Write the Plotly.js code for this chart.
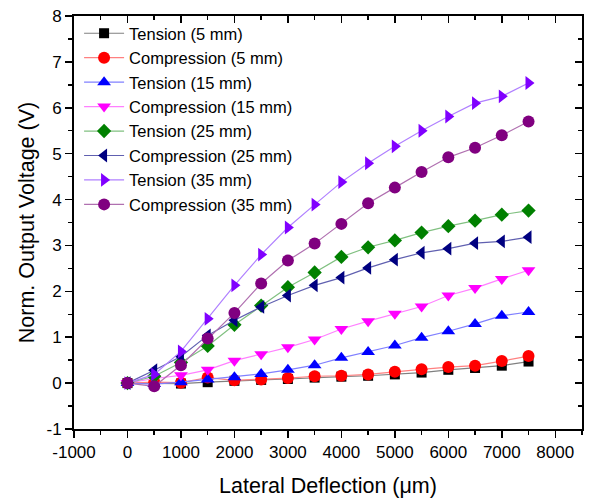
<!DOCTYPE html>
<html><head><meta charset="utf-8">
<script src="https://cdn.plot.ly/plotly-3.0.1.min.js"></script>
<style>html,body{margin:0;padding:0;background:#fff}</style>
</head><body>
<div id="chart" style="width:589px;height:501px"></div>
<script>
const deflection = [0,500,1000,1500,2000,2500,3000,3500,4000,4500,5000,5500,6000,6500,7000,7500];
const tension5 = [0,0.00,-0.01,0.02,0.05,0.07,0.09,0.12,0.14,0.16,0.19,0.23,0.29,0.33,0.38,0.47];
const compression5 = [0,0.02,0.01,0.12,0.06,0.08,0.11,0.15,0.16,0.19,0.25,0.30,0.35,0.38,0.48,0.59];
const tension15 = [0,-0.02,0.02,0.08,0.13,0.20,0.29,0.39,0.55,0.68,0.82,0.99,1.13,1.29,1.47,1.55];
const compression15 = [0,0.10,0.17,0.29,0.49,0.63,0.78,0.95,1.18,1.35,1.51,1.67,1.91,2.07,2.27,2.46];
const tension25 = [0,0.15,0.45,0.81,1.27,1.69,2.09,2.41,2.75,2.96,3.11,3.28,3.42,3.54,3.67,3.76];
const compression25 = [0,0.28,0.58,1.04,1.37,1.66,1.91,2.13,2.30,2.51,2.69,2.84,2.93,3.05,3.09,3.18];
const tension35 = [0,0.19,0.69,1.40,2.13,2.80,3.39,3.89,4.38,4.79,5.16,5.50,5.81,6.10,6.25,6.54];
const compression35 = [0,-0.07,0.39,0.97,1.53,2.17,2.67,3.04,3.47,3.92,4.26,4.60,4.92,5.13,5.40,5.70];

const seriesNames = ['Tension (5 mm)','Compression (5 mm)','Tension (15 mm)','Compression (15 mm)','Tension (25 mm)','Compression (25 mm)','Tension (35 mm)','Compression (35 mm)'];
const seriesValues = [tension5,compression5,tension15,compression15,tension25,compression25,tension35,compression35];
const markerColors = ['#000000','#ff0000','#0000ff','#ff00ff','#008000','#000080','#8000ff','#800080'];
const lineColors = ['#808080','#ff8080','#8080ff','#ff80ff','#80c080','#6060b0','#b080ff','#b070b0'];
const symbols = ['square','circle','triangle-up','triangle-down','diamond','triangle-left','triangle-right','circle'];
const sizes = [10,12,12,12,11,12,12,12];

const xTickVals = [-1000,0,1000,2000,3000,4000,5000,6000,7000,8000];
const xTickText = ['-1000','0','1000','2000','3000','4000','5000','6000','7000','8000'];
const yTickVals = [-1,0,1,2,3,4,5,6,7,8];
const yTickText = ['-1','0','1','2','3','4','5','6','7','8'];

const traces = seriesNames.map((n,i)=>({
  x: deflection, y: seriesValues[i], name: n, type:'scatter', mode:'lines+markers',
  line:{color:lineColors[i], width:1.2},
  marker:{color:markerColors[i], symbol:symbols[i], size:sizes[i], line:{width:0}}
}));
traces.push({x:[], y:[], xaxis:'x2', yaxis:'y2', showlegend:false, hoverinfo:'skip', type:'scatter', mode:'markers'});

const font = {family:'Liberation Sans, Arial, sans-serif', color:'#000'};
const layout = {
  width:589, height:501,
  margin:{l:74, r:7, t:16, b:72},
  paper_bgcolor:'#fff', plot_bgcolor:'#fff',
  font: Object.assign({size:17}, font),
  showlegend:true,
  legend:{x:0.01, y:1.0, xanchor:'left', yanchor:'top', bgcolor:'rgba(0,0,0,0)',
    font:Object.assign({size:16.5}, font), tracegroupgap:0, itemwidth:40},
  xaxis:{range:[-1000,8500], tickmode:'array', tickvals:xTickVals, ticktext:xTickText, showgrid:false, zeroline:false,
    showline:true, linecolor:'#000', linewidth:2, ticks:'outside', ticklen:7, tickwidth:1.5, tickcolor:'#000',
    minor:{dtick:500, tick0:0, ticks:'outside', ticklen:4, tickwidth:1.5, tickcolor:'#000', showgrid:false},
    tickfont:Object.assign({size:17}, font),
    title:{text:'Lateral Deflection (\u03bcm)', font:Object.assign({size:21.5}, font), standoff:17}},
  yaxis:{range:[-1,8], tickmode:'array', tickvals:yTickVals, ticktext:yTickText, showgrid:false, zeroline:false,
    showline:true, linecolor:'#000', linewidth:2, ticks:'outside', ticklen:7, tickwidth:1.5, tickcolor:'#000',
    minor:{dtick:0.5, tick0:0, ticks:'outside', ticklen:4, tickwidth:1.5, tickcolor:'#000', showgrid:false},
    tickfont:Object.assign({size:17}, font),
    title:{text:'Norm. Output Voltage (V)', font:Object.assign({size:21.5}, font), standoff:6}},
  xaxis2:{overlaying:'x', side:'top', range:[-1000,8500], dtick:1000, tick0:0, showgrid:false, zeroline:false,
    showline:true, linecolor:'#000', linewidth:2, ticks:'inside', ticklen:7, tickwidth:1.5, tickcolor:'#000',
    minor:{dtick:500, ticks:'inside', ticklen:4, tickwidth:1.5, tickcolor:'#000', showgrid:false},
    showticklabels:false},
  yaxis2:{overlaying:'y', side:'right', range:[-1,8], dtick:1, tick0:0, showgrid:false, zeroline:false,
    showline:true, linecolor:'#000', linewidth:2, ticks:'inside', ticklen:7, tickwidth:1.5, tickcolor:'#000',
    minor:{dtick:0.5, ticks:'inside', ticklen:4, tickwidth:1.5, tickcolor:'#000', showgrid:false},
    showticklabels:false}
};
Plotly.newPlot('chart', traces, layout, {displayModeBar:false, staticPlot:true});
</script>
</body></html>
